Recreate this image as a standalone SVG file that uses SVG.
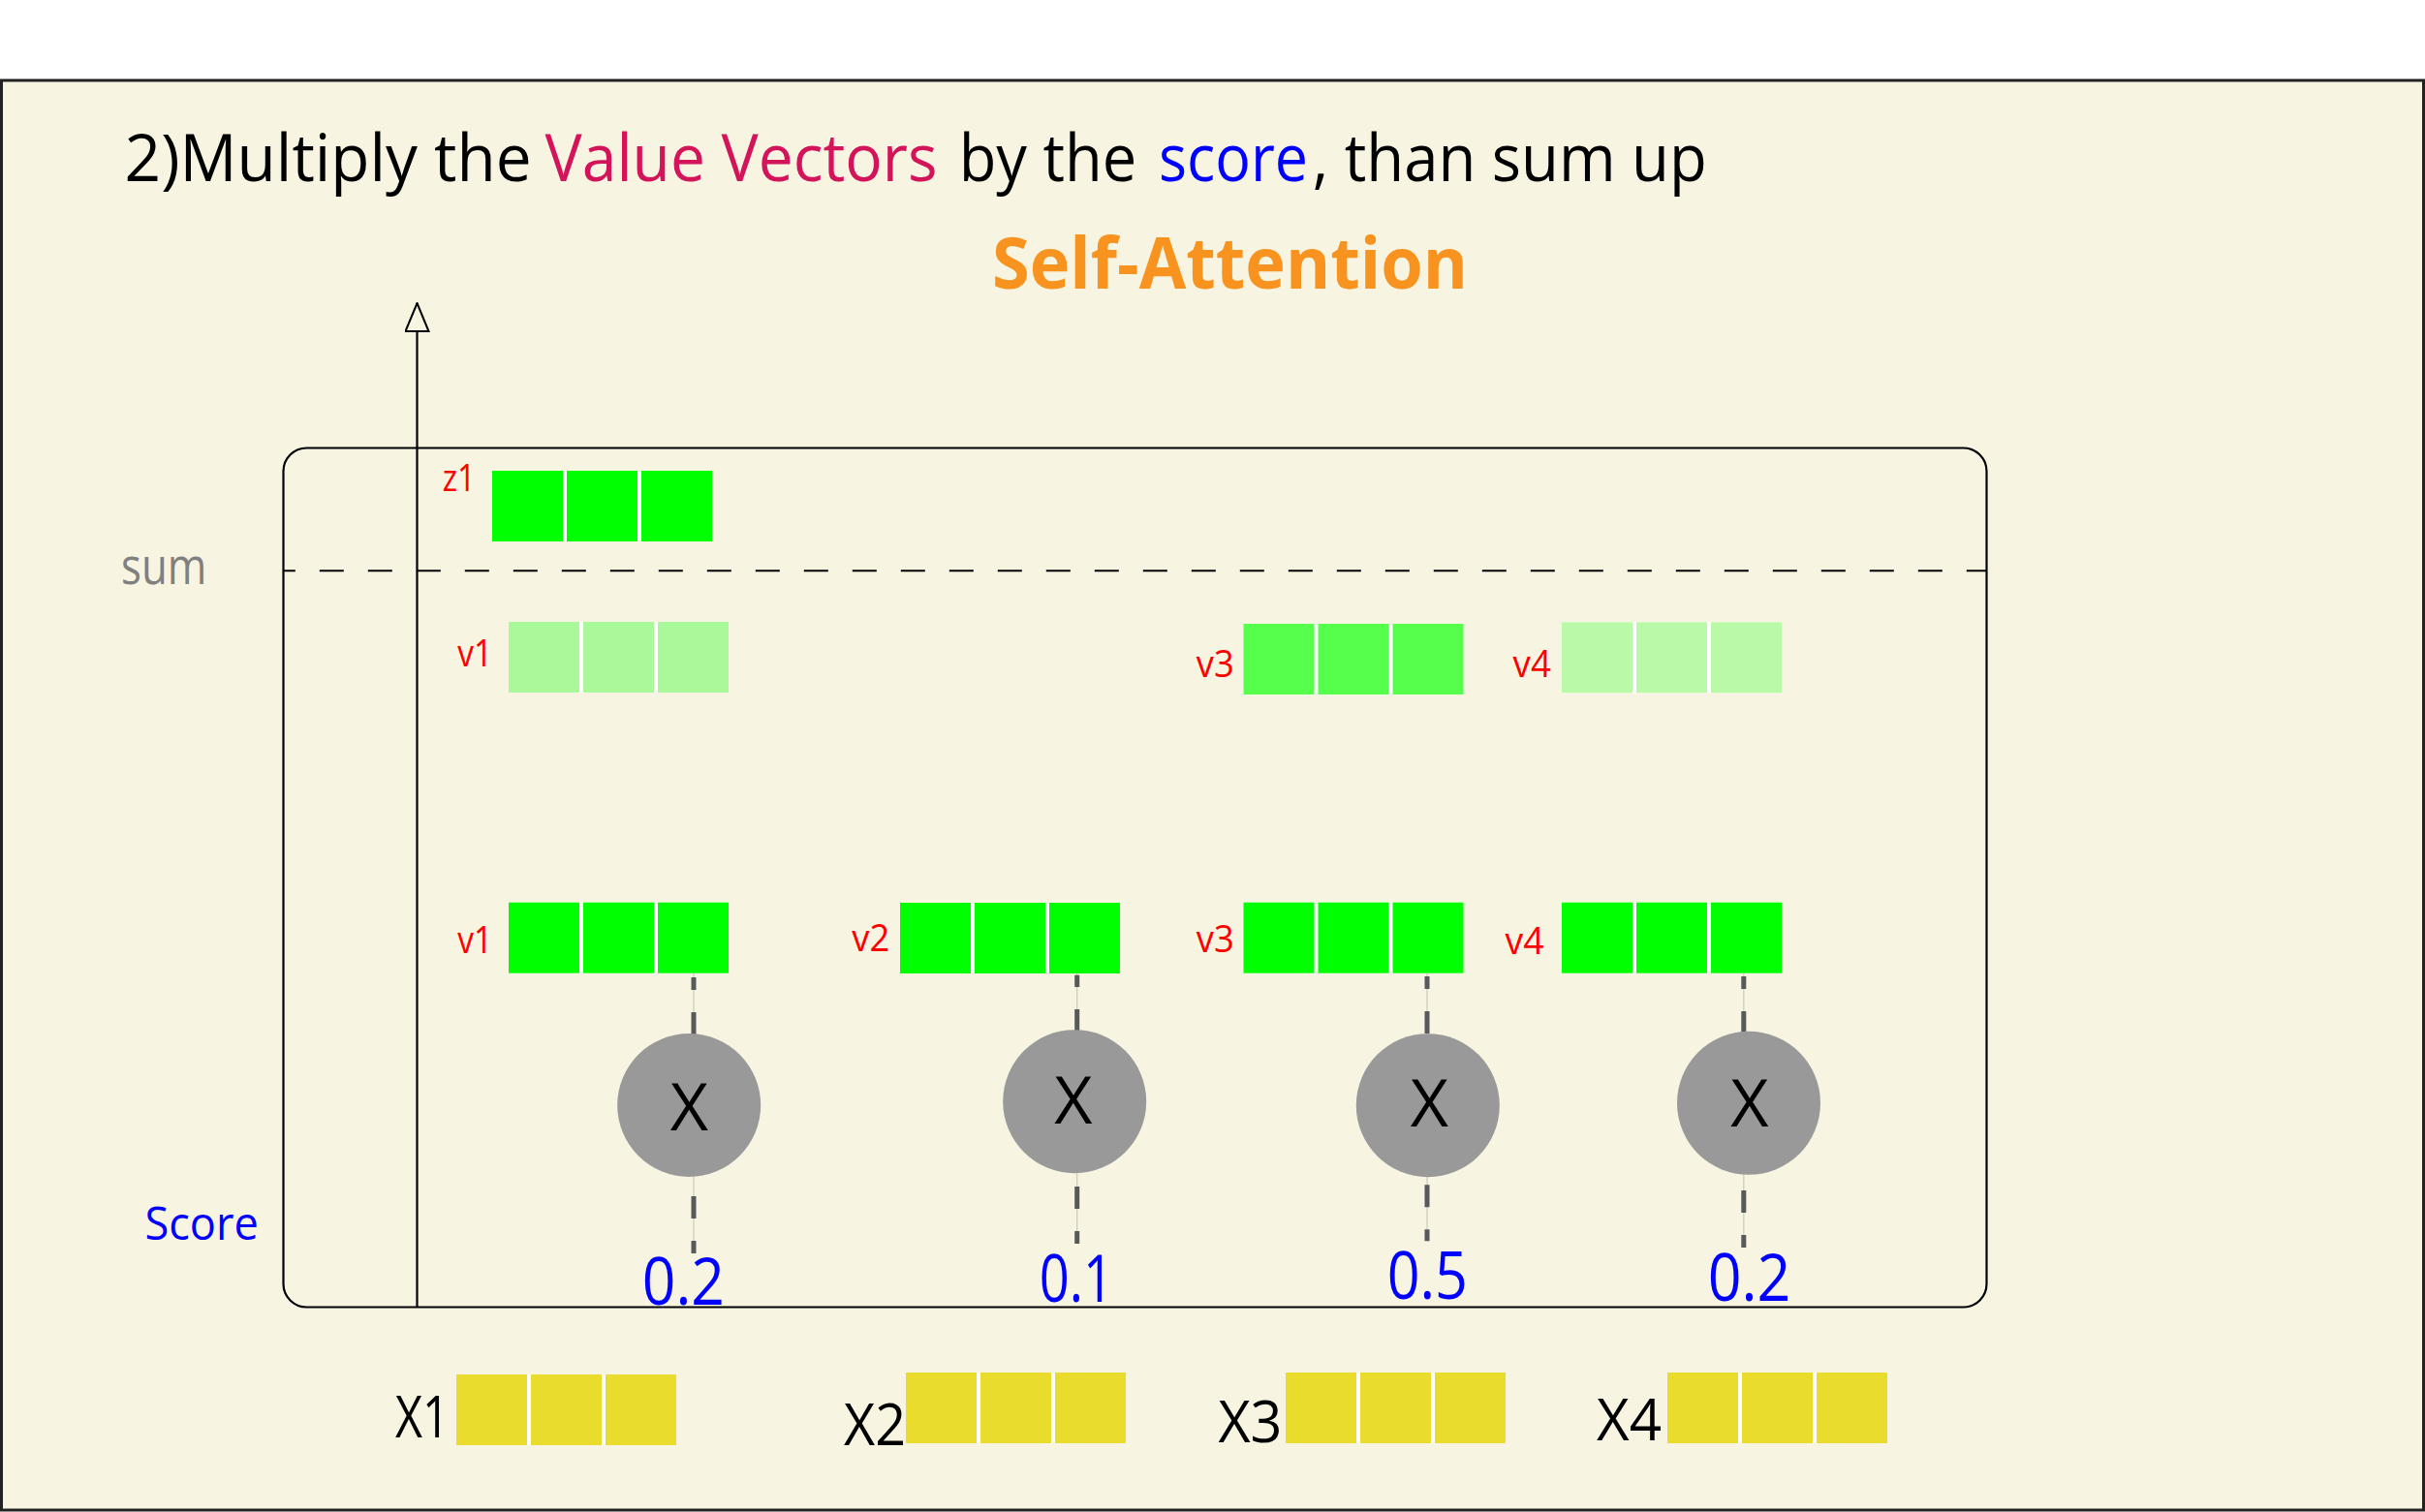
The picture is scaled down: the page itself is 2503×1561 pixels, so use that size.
<svg xmlns="http://www.w3.org/2000/svg" xmlns:xlink="http://www.w3.org/1999/xlink" width="2503" height="1561" viewBox="0 0 2503 1561">
<style>
text{font-family:"Open Sans","Noto Sans","Liberation Sans",sans-serif}
.lbl{fill:#ff0000;font-size:39px}
.num{fill:#0000ff;font-size:67px}
.xm{fill:#000;font-size:68px;text-anchor:middle}
.xl{fill:#000;font-size:60px}
.circ{fill:#999999}
.dash{stroke:#58595b;stroke-width:5;fill:none}
.thin{stroke:#c9c8bd;stroke-width:1.2;fill:none}
</style>
<defs>
<g id="blk">
<rect x="0" y="0" width="227" height="73" fill="#ffffff"/>
<rect x="0" y="0" width="73" height="73"/>
<rect x="77" y="0" width="73" height="73"/>
<rect x="154" y="0" width="73" height="73"/>
</g>
<marker id="openTri" markerUnits="userSpaceOnUse" viewBox="0 0 26 32" refX="13" refY="1" markerWidth="26" markerHeight="32" orient="0">
<path d="M13,1 L25,30 L1,30 Z" fill="#f7f5e2" stroke="#000" stroke-width="2"/>
</marker>
</defs>
<rect x="0" y="0" width="2503" height="1561" fill="#ffffff"/>
<rect id="panel" x="1.5" y="83" width="2500" height="1476" fill="#f7f5e2" stroke="#222" stroke-width="3"/>

<g id="title">
<text y="186.7" font-size="68"><tspan x="128.6" textLength="420" lengthAdjust="spacingAndGlyphs" fill="#000">2)Multiply the</tspan><tspan x="562.6" textLength="405" lengthAdjust="spacingAndGlyphs" fill="#d4145a">Value Vectors</tspan><tspan x="989.7" textLength="183.6" lengthAdjust="spacingAndGlyphs" fill="#000">by the</tspan><tspan x="1196" textLength="154" lengthAdjust="spacingAndGlyphs" fill="#0000ff">score</tspan><tspan x="1354.8" textLength="407" lengthAdjust="spacingAndGlyphs" fill="#000">, than sum up</tspan></text>
<text x="1024" y="298" font-size="74" font-weight="bold" fill="#f7931e" textLength="491" lengthAdjust="spacingAndGlyphs">Self-Attention</text>
</g>

<rect id="frame" x="292.5" y="462.5" width="1758" height="887" rx="24" ry="24" fill="none" stroke="#000" stroke-width="2.2"/>

<g id="connectors">
<line x1="430.5" y1="1349" x2="430.5" y2="313" stroke="#000" stroke-width="2.2" marker-end="url(#openTri)"/>
<line x1="292.5" y1="589.3" x2="2050.5" y2="589.3" stroke="#000" stroke-width="2" stroke-dasharray="25 25" stroke-dashoffset="12.7"/>
<line class="thin" x1="716" y1="1005" x2="716" y2="1294"/>
<line class="dash" x1="716" y1="1009" x2="716" y2="1068" stroke-dasharray="13 23 23 23"/>
<line class="dash" x1="716" y1="1235" x2="716" y2="1294" stroke-dasharray="23 23"/>
<line class="thin" x1="1111.7" y1="1005" x2="1111.7" y2="1284"/>
<line class="dash" x1="1111.7" y1="1006.7" x2="1111.7" y2="1064" stroke-dasharray="12.3 23 23 23"/>
<line class="dash" x1="1111.7" y1="1225" x2="1111.7" y2="1284" stroke-dasharray="23 23"/>
<line class="thin" x1="1473" y1="1005" x2="1473" y2="1281.3"/>
<line class="dash" x1="1473" y1="1008" x2="1473" y2="1068" stroke-dasharray="13 23 23 23"/>
<line class="dash" x1="1473" y1="1223.3" x2="1473" y2="1281.3" stroke-dasharray="23 23"/>
<line class="thin" x1="1799.8" y1="1005" x2="1799.8" y2="1288"/>
<line class="dash" x1="1799.8" y1="1008" x2="1799.8" y2="1066" stroke-dasharray="13 23 23 23"/>
<line class="dash" x1="1799.8" y1="1229" x2="1799.8" y2="1288" stroke-dasharray="23 23"/>
</g>

<g id="axis-labels">
<text x="125" y="603.3" font-size="51" fill="#808080" textLength="88.3" lengthAdjust="spacingAndGlyphs">sum</text>
<text x="149.5" y="1280" font-size="48" fill="#0000ff" textLength="117.3" lengthAdjust="spacingAndGlyphs">Score</text>
</g>

<g id="z1">
<use xlink:href="#blk" x="508" y="486" fill="#00ff00"/>
<text class="lbl" x="456.7" y="507.3" textLength="34" lengthAdjust="spacingAndGlyphs">z1</text>
</g>
<g id="v1-weighted">
<use xlink:href="#blk" x="525" y="642" fill="#a9f99a"/>
<text class="lbl" x="472.3" y="687.7" textLength="36" lengthAdjust="spacingAndGlyphs">v1</text>
</g>
<g id="v3-weighted">
<use xlink:href="#blk" x="1283.5" y="644" fill="#55ff4c"/>
<text class="lbl" x="1234.8" y="699" textLength="39" lengthAdjust="spacingAndGlyphs">v3</text>
</g>
<g id="v4-weighted">
<use xlink:href="#blk" x="1612" y="642.3" fill="#b9f9a8"/>
<text class="lbl" x="1561.6" y="698.7" textLength="39.3" lengthAdjust="spacingAndGlyphs">v4</text>
</g>

<g id="v1">
<use xlink:href="#blk" x="525" y="931.7" fill="#00ff00"/>
<text class="lbl" x="472.3" y="984" textLength="36" lengthAdjust="spacingAndGlyphs">v1</text>
</g>
<g id="v2">
<use xlink:href="#blk" x="929" y="932" fill="#00ff00"/>
<text class="lbl" x="879.3" y="981.7" textLength="39" lengthAdjust="spacingAndGlyphs">v2</text>
</g>
<g id="v3">
<use xlink:href="#blk" x="1283.5" y="931.7" fill="#00ff00"/>
<text class="lbl" x="1234.8" y="983.3" textLength="39" lengthAdjust="spacingAndGlyphs">v3</text>
</g>
<g id="v4">
<use xlink:href="#blk" x="1612" y="931.7" fill="#00ff00"/>
<text class="lbl" x="1553.6" y="985" textLength="40" lengthAdjust="spacingAndGlyphs">v4</text>
</g>

<g id="mul1">
<circle class="circ" cx="711.2" cy="1141" r="74"/>
<text class="xm" x="711.4" y="1166.7">X</text>
</g>
<g id="mul2">
<circle class="circ" cx="1109.2" cy="1137.2" r="74"/>
<text class="xm" x="1108" y="1160">X</text>
</g>
<g id="mul3">
<circle class="circ" cx="1473.8" cy="1141.2" r="74"/>
<text class="xm" x="1475.3" y="1162.7">X</text>
</g>
<g id="mul4">
<circle class="circ" cx="1805" cy="1138.8" r="74"/>
<text class="xm" x="1806" y="1162.7">X</text>
</g>

<g id="score1"><text class="num" x="662.8" y="1346.7" textLength="85.2" lengthAdjust="spacingAndGlyphs">0.2</text></g>
<g id="score2"><text class="num" x="1072.7" y="1344.3" textLength="76.3" lengthAdjust="spacingAndGlyphs">0.1</text></g>
<g id="score3"><text class="num" x="1431.7" y="1341" textLength="83.3" lengthAdjust="spacingAndGlyphs">0.5</text></g>
<g id="score4"><text class="num" x="1762.7" y="1342.7" textLength="85.6" lengthAdjust="spacingAndGlyphs">0.2</text></g>

<g id="x1">
<use xlink:href="#blk" x="471" y="1419" fill="#e9dc2d"/>
<text class="xl" x="408" y="1484" textLength="55.8" lengthAdjust="spacingAndGlyphs">X1</text>
</g>
<g id="x2">
<use xlink:href="#blk" x="935" y="1417" fill="#e9dc2d"/>
<text class="xl" x="871" y="1491.7" textLength="64" lengthAdjust="spacingAndGlyphs">X2</text>
</g>
<g id="x3">
<use xlink:href="#blk" x="1327" y="1417" fill="#e9dc2d"/>
<text class="xl" x="1257.4" y="1489.3" textLength="66" lengthAdjust="spacingAndGlyphs">X3</text>
</g>
<g id="x4">
<use xlink:href="#blk" x="1721" y="1417" fill="#e9dc2d"/>
<text class="xl" x="1648" y="1487.3" textLength="67" lengthAdjust="spacingAndGlyphs">X4</text>
</g>
</svg>
